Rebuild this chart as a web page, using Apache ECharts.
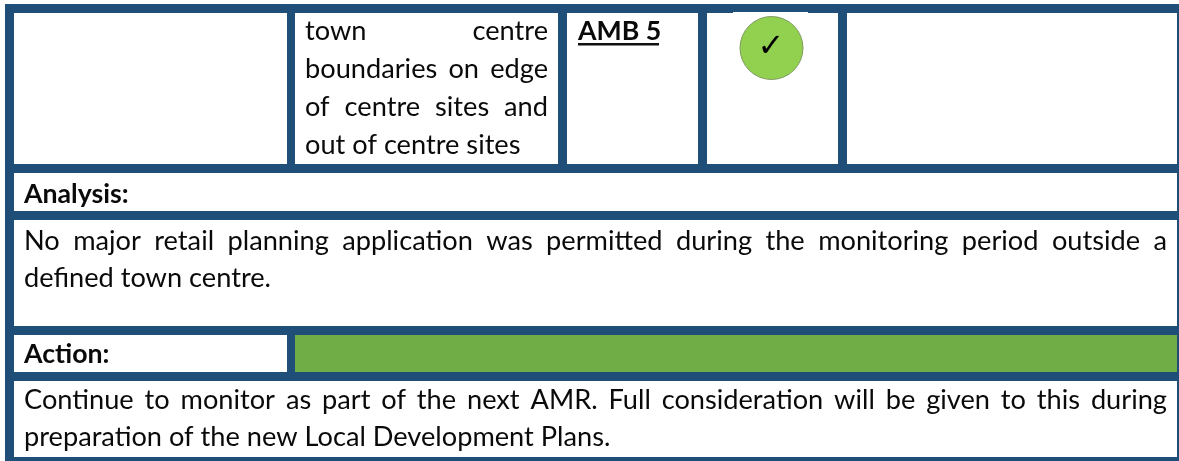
<!DOCTYPE html>
<html><head><meta charset="utf-8">
<style>html,body{margin:0;padding:0;background:#fff}#c{width:1179px;height:461px}</style>
<script src="https://cdn.jsdelivr.net/npm/echarts@6/dist/echarts.min.js"></script>
</head><body><div id="c"></div>
<script>
var borderColor = '#1F4E79', greenBar = '#70AD47', badge = '#92D050';
var outcomeLines = ['town centre', 'boundaries on edge', 'of centre sites and', 'out of centre sites'];
var reference = 'AMB 5';
var analysisHead = 'Analysis:';
var analysisLines = ['No major retail planning application was permitted during the monitoring period outside a', 'defined town centre.'];
var actionHead = 'Action:';
var actionLines = ['Continue to monitor as part of the next AMR. Full consideration will be given to this during', 'preparation of the new Local Development Plans.'];
var FONT = '27.2px Lato';
var BOLD = 'bold 26.7px Lato';
var chart = echarts.init(document.getElementById('c'), null, {renderer: 'canvas'});
var ctx = document.createElement('canvas').getContext('2d');
function w(s, f) { ctx.font = f; return ctx.measureText(s).width; }
var els = [];
function rect(x0, y0, x1, y1, fill) { els.push({type: 'rect', shape: {x: x0, y: y0, width: x1 - x0, height: y1 - y0}, style: {fill: fill}, silent: true}); }
function txt(s, x, y, f, extra) { els.push({type: 'text', x: x, y: y, style: Object.assign({text: s, font: f, fill: '#0a0a0a', verticalAlign: 'middle'}, extra || {}), silent: true}); }
function line(s, x0, x1, y, justify) {
  if (!justify) { txt(s, x0, y, FONT); return; }
  var ws = s.split(' '), tot = 0;
  ws.forEach(function (p) { tot += w(p, FONT); });
  var gap = (x1 - x0 - tot) / (ws.length - 1), x = x0;
  ws.forEach(function (p) { txt(p, x, y, FONT); x += w(p, FONT) + gap; });
}
rect(5, 4, 1179, 461, borderColor);
rect(14, 13, 287, 164, '#fff');
rect(295, 13, 558, 164, '#fff');
rect(567, 13, 698, 164, '#fff');
rect(707, 13, 838, 164, '#fff');
rect(847, 13, 1177, 164, '#fff');
rect(733, 12, 808, 13, '#fff');
rect(14, 173, 1177, 211, '#fff');
rect(14, 220, 1177, 326, '#fff');
rect(14, 335, 287, 372, '#fff');
rect(295, 335, 1177, 372, greenBar);
rect(14, 381, 1177, 457, '#fff');
outcomeLines.forEach(function (s, i) { line(s, 305, 548, 31 + i * 38, i < 3); });
txt(reference, 578, 31, BOLD);
rect(578, 43, 659, 45.5, '#111');
els.push({type: 'circle', shape: {cx: 771.5, cy: 48, r: 31.5}, style: {fill: badge, stroke: '#7f9a5f', lineWidth: 1}, silent: true});
txt('\u2713', 771, 48, 'bold 32px "DejaVu Sans"', {align: 'center', fill: '#000'});
txt(analysisHead, 24, 194, BOLD);
line(analysisLines[0], 24, 1167, 241, true);
line(analysisLines[1], 24, 1167, 278, false);
txt(actionHead, 24, 354, BOLD);
line(actionLines[0], 24, 1167, 400, true);
line(actionLines[1], 24, 1167, 437, false);
chart.setOption({animation: false, graphic: {elements: els}});
</script></body></html>
